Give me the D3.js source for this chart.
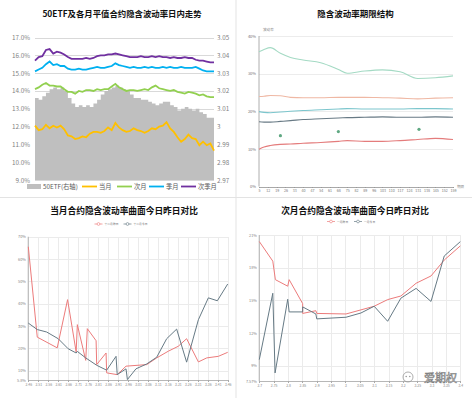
<!doctype html>
<html lang="zh-CN">
<head>
  <meta charset="utf-8">
  <title>隐含波动率</title>
<style>
 body{ margin:0; background:#fff; }
 #chart text{ font-family:"Noto Sans CJK SC","Noto Sans",sans-serif; }
 .tick line, .domain{ shape-rendering: crispEdges; }
</style>
</head>
<body>
<svg id="chart" width="472" height="398"></svg>
<script src="https://d3js.org/d3.v7.min.js"></script>
<script type="text/javascript">

// ---- 1: 50ETF及各月平值合约隐含波动率日内走势 ----
var etf = [3.016, 3.015, 3.017, 3.019, 3.021, 3.022, 3.021, 3.022, 3.020, 3.016,
  3.013, 3.011, 3.012, 3.011, 3.012, 3.011, 3.013, 3.015, 3.018, 3.020,
  3.021, 3.022, 3.023, 3.022, 3.021, 3.020, 3.018, 3.016, 3.016, 3.015,
  3.015, 3.014, 3.013, 3.012, 3.013, 3.014, 3.014, 3.012, 3.011, 3.009,
  3.010, 3.011, 3.010, 3.009, 3.010, 3.008, 3.007, 3.005, 3.005, 3.006];
var dangYue = [12.05, 11.8, 11.85, 12.1, 11.9, 12.05, 11.95, 12.05, 11.85, 11.5,
  11.45, 11.3, 11.35, 11.45, 11.4, 11.6, 11.7, 11.7, 11.65, 11.75,
  11.95, 11.8, 12.2, 11.95, 11.8, 11.7, 11.75, 11.9, 11.8, 11.75,
  11.65, 11.75, 11.9, 11.85, 12.0, 12.05, 12.25, 11.9, 11.7, 11.4,
  11.15, 11.3, 11.55, 11.35, 11.3, 10.95, 11.15, 10.95, 11.05, 10.65];
var ciYue = [14.1, 14.2, 14.35, 14.45, 14.3, 14.3, 14.25, 14.25, 14.1, 13.95,
  13.95, 13.85, 14.0, 13.95, 14.05, 14.05, 14.0, 14.1, 14.05, 14.1,
  14.1, 14.25, 14.4, 14.2, 14.1, 14.0, 14.05, 14.05, 14.0, 14.05,
  14.1, 14.05, 14.2, 14.3, 14.15, 14.1, 14.05, 14.0, 14.05, 13.95,
  13.9, 13.85, 13.95, 13.9, 13.85, 13.75, 13.8, 13.7, 13.65, 13.65];
var jiYue = [15.1, 15.2, 15.3, 15.5, 15.65, 15.45, 15.5, 15.4, 15.4, 15.25,
  15.2, 15.2, 15.25, 15.2, 15.2, 15.25, 15.3, 15.35, 15.3, 15.3,
  15.35, 15.4, 15.55, 15.45, 15.4, 15.35, 15.3, 15.35, 15.3, 15.3,
  15.35, 15.3, 15.35, 15.3, 15.3, 15.35, 15.3, 15.35, 15.3, 15.3,
  15.35, 15.3, 15.3, 15.3, 15.35, 15.25, 15.15, 15.1, 15.1, 15.1];
var ciJiYue = [15.7, 15.9, 15.95, 16.3, 16.35, 16.1, 16.2, 16.15, 16.05, 15.9,
  15.8, 15.8, 15.8, 15.8, 15.85, 15.8, 15.85, 15.95, 16.0, 16.0,
  16.05, 16.05, 16.1, 16.05, 16.0, 15.95, 15.9, 15.9, 15.9, 15.95,
  15.9, 15.9, 15.95, 15.9, 15.95, 15.9, 15.9, 15.85, 15.9, 15.85,
  15.85, 15.9, 15.85, 15.85, 15.75, 15.7, 15.7, 15.65, 15.6, 15.6];
var leftTicks1 = [9, 10, 11, 12, 13, 14, 15, 16, 17];
var rightTicks1 = [2.97, 2.98, 2.99, 3.00, 3.01, 3.02, 3.03, 3.04, 3.05];
var legend1 = ['50ETF(右轴)', '当月', '次月', '季月', '次季月'];

// ---- 2: 隐含波动率期限结构 ----
var termTicks = [5, 12, 19, 26, 33, 40, 47, 54, 61, 68, 75, 82, 89, 96, 103, 110, 117, 124, 131, 138, 145, 152, 159];
var termX = [5, 9, 14, 22, 30, 40, 54, 68, 75, 89, 103, 117, 131, 145, 159];
var termMint = [35.8, 36.4, 36.9, 35.4, 34.3, 33.6, 32.9, 31.1, 30.1, 30.7, 31.0, 30.5, 28.7, 28.9, 29.4];
var termSalmon = [23.9, 24.0, 24.2, 24.1, 23.7, 23.6, 23.6, 23.7, 23.7, 23.7, 23.6, 23.5, 23.3, 23.5, 23.6];
var termCyan = [19.9, 19.7, 19.6, 19.8, 20.0, 20.2, 20.4, 20.6, 20.7, 20.6, 20.6, 20.6, 20.7, 20.7, 20.6];
var termDark = [17.2, 17.1, 17.1, 17.3, 17.5, 17.8, 18.0, 18.2, 18.3, 18.4, 18.5, 18.4, 18.4, 18.5, 18.4];
var termRed = [9.9, 10.5, 10.9, 11.2, 11.3, 11.5, 11.7, 12.0, 12.2, 12.0, 12.0, 12.2, 12.5, 12.8, 12.5];
var dotX = [22, 68, 132];
var dotV = [13.5, 14.6, 15.2];
var termYTicks = [0, 10, 20, 30, 40];

// ---- 3: 当月合约隐含波动率曲面今日昨日对比 ----
var k3Red = [2.46, 2.505, 2.605, 2.657, 2.70, 2.706, 2.748, 2.756, 2.80, 2.803, 2.85, 2.853, 2.906, 2.95, 3.054, 3.104, 3.162, 3.212, 3.254, 3.313, 3.355, 3.413, 3.46];
var v3Red = [65.5, 25.0, 20.2, 41.8, 18.4, 30.6, 14.6, 28.8, 23.4, 12.7, 17.9, 9.0, 8.2, 12.0, 12.7, 15.7, 18.7, 20.9, 24.3, 13.9, 15.7, 16.4, 18.2];
var k3Gray = [2.46, 2.505, 2.552, 2.61, 2.66, 2.70, 2.706, 2.748, 2.803, 2.853, 2.90, 2.906, 2.95, 2.957, 3.0, 3.054, 3.104, 3.154, 3.204, 3.254, 3.313, 3.363, 3.408, 3.46];
var v3Gray = [31.3, 28.4, 27.3, 24.3, 19.8, 17.9, 18.6, 15.7, 12.4, 10.2, 16.4, 8.2, 10.8, 6.0, 10.8, 13.0, 16.0, 24.3, 28.6, 13.8, 32.8, 42.6, 41.3, 48.8];
var x3Ticks = [2.46, 2.51, 2.56, 2.61, 2.66, 2.71, 2.76, 2.81, 2.86, 2.91, 2.96, 3.01, 3.06, 3.11, 3.16, 3.21, 3.26, 3.31, 3.36, 3.41, 3.46];
var y3Ticks = [5.8, 10, 20, 30, 40, 50, 60, 70];
var legend3 = ['十二月昨日', '十二月今日'];

// ---- 4: 次月合约隐含波动率曲面今日昨日对比 ----
var k4Red = [2.70, 2.747, 2.756, 2.799, 2.804, 2.851, 2.851, 2.897, 2.90, 3.002, 3.10, 3.147, 3.193, 3.246, 3.298, 3.344, 3.40];
var v4Red = [20.4, 18.6, 16.9, 16.3, 16.9, 14.7, 13.8, 14.05, 13.8, 13.75, 14.46, 15.07, 15.4, 16.57, 17.24, 18.7, 20.0];
var k4Gray = [2.70, 2.747, 2.755, 2.799, 2.804, 2.851, 2.851, 2.897, 2.90, 3.002, 3.054, 3.10, 3.147, 3.193, 3.246, 3.298, 3.344, 3.40];
var v4Gray = [9.56, 15.65, 8.34, 15.1, 13.94, 13.94, 14.4, 13.75, 13.3, 13.45, 13.84, 14.46, 13.08, 15.2, 16.1, 14.9, 19.07, 20.39];
var x4Ticks = [2.7, 2.75, 2.8, 2.85, 2.9, 2.95, 3.0, 3.05, 3.1, 3.15, 3.2, 3.25, 3.3, 3.35, 3.4];
var y4Ticks = [7.57, 9, 12, 15, 18, 21];
var legend4 = ['一月昨日', '一月今日'];


var svg = d3.select('#chart');

// panel separators
svg.append('line').attr('x1', 236).attr('x2', 236).attr('y1', 0).attr('y2', 398)
  .attr('stroke', '#e3e3e3').attr('stroke-width', 1);
svg.append('line').attr('x1', 0).attr('x2', 472).attr('y1', 197.5).attr('y2', 197.5)
  .attr('stroke', '#e3e3e3').attr('stroke-width', 1);

function title(x, y, txt, size){
  svg.append('text').attr('x', x).attr('y', y).attr('text-anchor', 'middle')
    .attr('font-size', size).attr('font-weight', 'bold').attr('fill', '#111').text(txt);
}

function tidy(g, size, color){
  g.select('.domain').remove();
  g.selectAll('text').attr('font-size', size).attr('fill', color).attr('font-family', null);
}

// ================= chart 1 =================
title(122, 17, '50ETF及各月平值合约隐含波动率日内走势', 8.4);

var x1 = d3.scaleLinear().domain([0, etf.length - 1]).range([35, 214]);
var y1 = d3.scaleLinear().domain([9, 17]).range([180, 37.5]);
var y1r = d3.scaleLinear().domain([2.97, 3.05]).range([180, 37.5]);

svg.append('g').attr('transform', 'translate(35,0)')
  .call(d3.axisLeft(y1).tickValues(leftTicks1).tickSize(-179).tickFormat(''))
  .call(function(g){ g.select('.domain').remove(); })
  .selectAll('line').attr('stroke', '#d9d9d9');

var area1 = d3.area()
  .x(function(d, i){ return x1(i); })
  .y0(y1r(2.97))
  .y1(function(d){ return y1r(d); })
  .curve(d3.curveStepAfter);
svg.append('path').datum(etf).attr('d', area1).attr('fill', '#bfbfbf');

var line1 = d3.line().x(function(d, i){ return x1(i); }).y(function(d){ return y1(d); });
var series1 = [[dangYue, '#ffc000'], [ciYue, '#92d050'], [jiYue, '#00b0f0'], [ciJiYue, '#7030a0']];
series1.forEach(function(s){
  svg.append('path').datum(s[0]).attr('d', line1)
    .attr('fill', 'none').attr('stroke', s[1]).attr('stroke-width', 1.8);
});

svg.append('g').attr('transform', 'translate(35,0)')
  .call(d3.axisLeft(y1).tickValues(leftTicks1).tickSize(0).tickPadding(5)
    .tickFormat(function(d){ return d.toFixed(1) + '%'; }))
  .call(tidy, 6.3, '#7f7f7f');

svg.append('g').attr('transform', 'translate(214,0)')
  .call(d3.axisRight(y1r).tickValues(rightTicks1).tickSize(0).tickPadding(3)
    .tickFormat(function(d){ return String(+d.toFixed(2)); }))
  .call(tidy, 6.3, '#7f7f7f');

// legend 1
var lg1x = [27, 82, 117, 149, 181];
var lg1c = ['#bfbfbf', '#ffc000', '#92d050', '#00b0f0', '#7030a0'];
legend1.forEach(function(name, i){
  if (i === 0) {
    svg.append('rect').attr('x', lg1x[i]).attr('y', 184).attr('width', 14).attr('height', 5).attr('fill', lg1c[i]);
  } else {
    svg.append('line').attr('x1', lg1x[i]).attr('x2', lg1x[i] + 15).attr('y1', 186.5).attr('y2', 186.5)
      .attr('stroke', lg1c[i]).attr('stroke-width', 1.8);
  }
  svg.append('text').attr('x', lg1x[i] + (i === 0 ? 16 : 17)).attr('y', 188.8)
    .attr('font-size', 6.3).attr('fill', '#595959').text(name);
});

// ================= chart 2 =================
title(355.5, 17, '隐含波动率期限结构', 8.5);

var x2 = d3.scaleLinear().domain([5, 159]).range([259, 453]);
var y2 = d3.scaleLinear().domain([0, 40]).range([186.5, 36]);

svg.append('g').attr('transform', 'translate(259,0)')
  .call(d3.axisLeft(y2).tickValues(termYTicks).tickSize(-194).tickPadding(3)
    .tickFormat(function(d){ return d + '%'; }))
  .call(tidy, 4, '#777')
  .selectAll('line').attr('stroke', '#ececec');

svg.append('line').attr('x1', 259).attr('x2', 259).attr('y1', 36).attr('y2', 186.5)
  .attr('stroke', '#999').attr('stroke-width', 0.8);

svg.append('g').attr('transform', 'translate(0,186.5)')
  .call(d3.axisBottom(x2).tickValues(termTicks).tickSize(1.5).tickPadding(1.5))
  .call(function(g){
    g.select('.domain').attr('stroke', '#999').attr('stroke-width', 0.8);
    g.selectAll('.tick line').attr('stroke', '#999');
    g.selectAll('text').attr('font-size', 3.6).attr('fill', '#777').attr('font-family', null);
  });

svg.append('text').attr('x', 263).attr('y', 31).attr('font-size', 3.6).attr('fill', '#888').text('波动率');
svg.append('text').attr('x', 457).attr('y', 188).attr('font-size', 3.6).attr('fill', '#888').text('期限');

var line2 = d3.line()
  .x(function(d, i){ return x2(termX[i]); })
  .y(function(d){ return y2(d); })
  .curve(d3.curveMonotoneX);
var series2 = [[termMint, '#a4dac4'], [termSalmon, '#efb8a4'], [termCyan, '#7cc6cd'],
  [termDark, '#687a85'], [termRed, '#e47c7c']];
series2.forEach(function(s){
  svg.append('path').datum(s[0]).attr('d', line2)
    .attr('fill', 'none').attr('stroke', s[1]).attr('stroke-width', 1.1);
});

svg.selectAll('.tdot').data(dotV).enter().append('circle')
  .attr('class', 'tdot')
  .attr('cx', function(d, i){ return x2(dotX[i]); })
  .attr('cy', function(d){ return y2(d); })
  .attr('r', 1.6)
  .attr('fill', '#5fa882');

// ================= charts 3 & 4 =================
function drawCompare(o){
  title(o.tx, 214, o.title, 8.7);

  var x = d3.scaleLinear().domain(o.xDom).range(o.xRange);
  var y = d3.scaleLinear().domain(o.yDom).range(o.yRange);
  var w = o.xRange[1] - o.xRange[0];
  var h = o.yRange[0] - o.yRange[1];

  svg.append('g').attr('transform', 'translate(0,' + o.yRange[1] + ')')
    .call(d3.axisBottom(x).tickValues(o.xTicks).tickSize(h).tickFormat(''))
    .call(function(g){ g.select('.domain').remove(); })
    .selectAll('line').attr('stroke', '#ebebeb');

  svg.append('g').attr('transform', 'translate(' + o.xRange[0] + ',0)')
    .call(d3.axisLeft(y).tickValues(o.yTicks).tickSize(-w).tickPadding(2.5).tickFormat(o.yFmt))
    .call(tidy, 3.8, '#888')
    .selectAll('line').attr('stroke', '#ebebeb');

  svg.append('g').attr('transform', 'translate(0,' + o.yRange[0] + ')')
    .call(d3.axisBottom(x).tickValues(o.xTicks).tickSize(1.5).tickPadding(2).tickFormat(o.xFmt))
    .call(function(g){
      g.select('.domain').attr('stroke', '#aaa').attr('stroke-width', 0.8);
      g.selectAll('.tick line').attr('stroke', '#aaa');
      g.selectAll('text').attr('font-size', 3.4).attr('fill', '#888').attr('font-family', null);
    });

  svg.append('line').attr('x1', o.xRange[0]).attr('x2', o.xRange[0])
    .attr('y1', o.yRange[1]).attr('y2', o.yRange[0])
    .attr('stroke', '#bbb').attr('stroke-width', 1.2);

  o.series.forEach(function(s, si){
    var line = d3.line()
      .x(function(d, i){ return x(s.k[i]); })
      .y(function(d){ return y(d); });
    svg.append('path').datum(s.v).attr('d', line)
      .attr('fill', 'none').attr('stroke', s.color).attr('stroke-width', 1);

    var lx = o.legX[si];
    svg.append('line').attr('x1', lx - 4).attr('x2', lx + 4).attr('y1', o.legY).attr('y2', o.legY)
      .attr('stroke', s.color).attr('stroke-width', 0.7);
    svg.append('circle').attr('cx', lx).attr('cy', o.legY).attr('r', 1.4)
      .attr('fill', '#fff').attr('stroke', s.color).attr('stroke-width', 0.6);
    svg.append('text').attr('x', lx + 6).attr('y', o.legY + 1).attr('font-size', 2.8)
      .attr('fill', '#777').text(o.legend[si]);
  });
}

drawCompare({
  title: '当月合约隐含波动率曲面今日昨日对比', tx: 124,
  xDom: [2.46, 3.46], xRange: [28.3, 227.7],
  yDom: [5.8, 70], yRange: [380, 236.7],
  xTicks: x3Ticks, yTicks: y3Ticks,
  xFmt: function(d){ return d.toFixed(2); },
  yFmt: function(d){ return d === 5.8 ? '5.8%' : d + '%'; },
  series: [{k: k3Red, v: v3Red, color: '#ec7b7b'}, {k: k3Gray, v: v3Gray, color: '#667a85'}],
  legend: legend3, legX: [98.5, 127.5], legY: 224
});

drawCompare({
  title: '次月合约隐含波动率曲面今日昨日对比', tx: 355,
  xDom: [2.7, 3.4], xRange: [259.3, 460.3],
  yDom: [7.57, 21], yRange: [381.3, 235],
  xTicks: x4Ticks, yTicks: y4Ticks,
  xFmt: function(d){ return String(+d.toFixed(2)); },
  yFmt: function(d){ return d === 7.57 ? '7.57%' : d + '%'; },
  series: [{k: k4Red, v: v4Red, color: '#ec7b7b'}, {k: k4Gray, v: v4Gray, color: '#667a85'}],
  legend: legend4, legX: [331, 358], legY: 221.5
});

// watermark
var wm = svg.append('g').attr('transform', 'translate(408,377)');
wm.append('circle').attr('r', 5).attr('fill', 'none').attr('stroke', '#999').attr('stroke-width', 0.8);
wm.append('circle').attr('cx', -1.8).attr('cy', -0.5).attr('r', 0.8).attr('fill', '#999');
wm.append('circle').attr('cx', 1.8).attr('cy', -0.5).attr('r', 0.8).attr('fill', '#999');
svg.append('text').attr('x', 424).attr('y', 381.5).attr('font-size', 11)
  .attr('fill', '#fff').attr('stroke', '#808080').attr('stroke-width', 0.6).text('爱期权');

</script>
</body>
</html>
